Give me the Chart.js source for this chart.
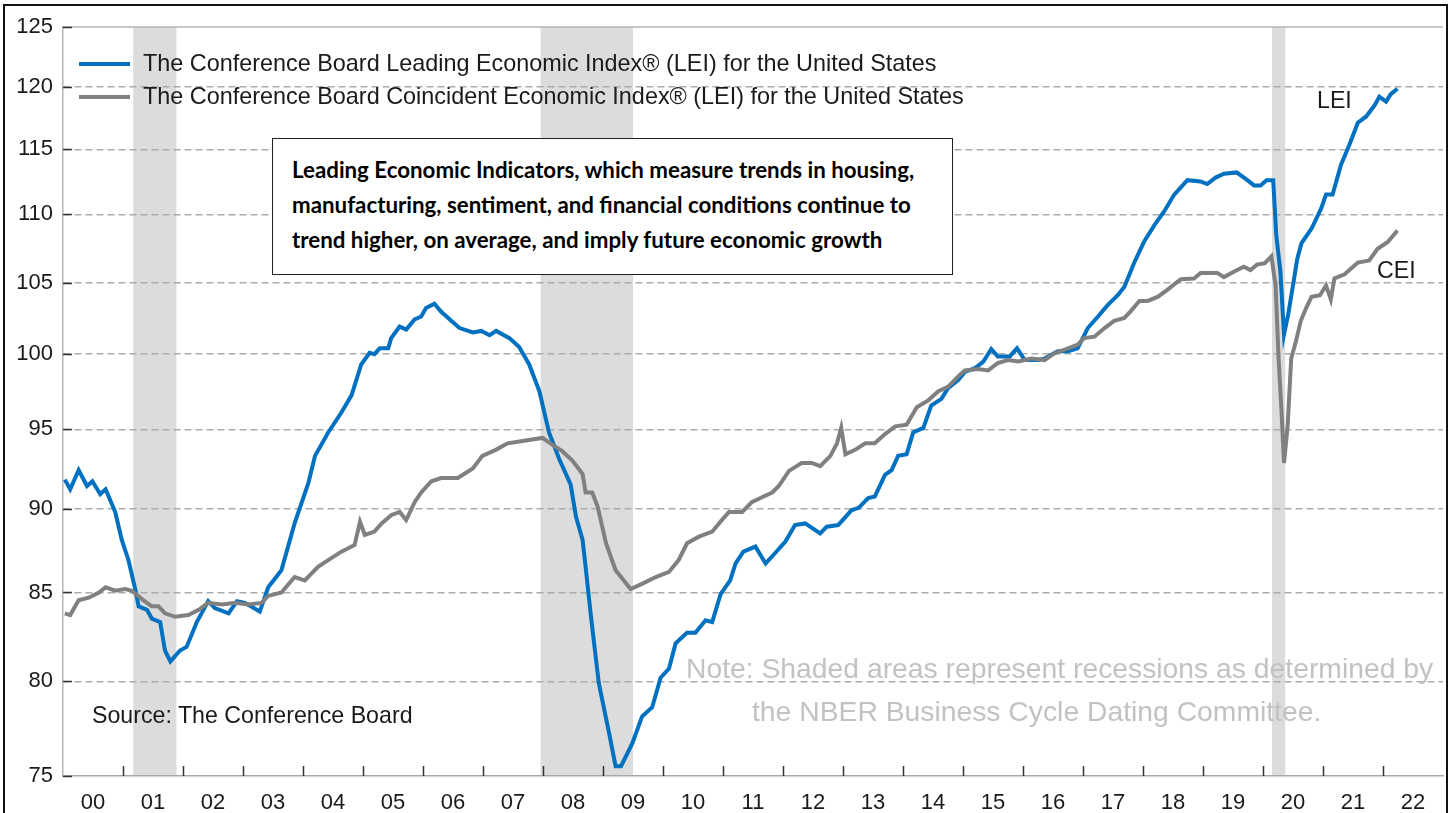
<!DOCTYPE html>
<html>
<head>
<meta charset="utf-8">
<script src="https://cdn.jsdelivr.net/npm/chart.js"></script>
<style>
  body { margin: 0; background: #fff; }
  #wrap { position: relative; width: 1451px; height: 813px; overflow: hidden; font-family: "Liberation Sans", Arial, sans-serif; }
  #chart { position: absolute; left: 0; top: 0; }
  #frame { position: absolute; left: 3px; top: 4px; width: 1441px; height: 900px; border: 2px solid #111; pointer-events: none; }
  .txt { position: absolute; white-space: nowrap; color: #1a1a1a; font-size: 23.2px; line-height: 26px; }
  #legend { position: absolute; left: 79px; top: 47px; }
  #legend .item { display: flex; align-items: center; height: 33px; font-size: 23.4px; color: #1a1a1a; white-space: nowrap; }
  #legend .swatch { display: inline-block; width: 51px; height: 4px; margin-right: 13px; }
  .note { color: #c2c2c2; font-size: 28.3px; line-height: 30px; }
  #box { position: absolute; left: 272px; top: 138px; width: 641px; height: 109px; padding: 13px 19px 13px 19px;
         border: 1.5px solid #222; background: #fff; font-family: Lato, "Open Sans", sans-serif; font-weight: bold;
         font-size: 22.3px; line-height: 35px; color: #000; white-space: nowrap; }
</style>
</head>
<body>
<div id="wrap">
  <canvas id="chart" width="1451" height="813"></canvas>
  <div id="legend"></div>
  <div id="box">Leading Economic Indicators, which measure trends in housing,<br>manufacturing, sentiment, and financial conditions continue to<br>trend higher, on average, and imply future economic growth</div>
  <div class="txt" style="left:92px; top:702px;">Source: The Conference Board</div>
  <div class="txt note" style="left:686px; top:653px;">Note: Shaded areas represent recessions as determined by</div>
  <div class="txt note" style="left:752px; top:696px;">the NBER Business Cycle Dating Committee.</div>
  <div class="txt" style="left:1317px; top:87px;">LEI</div>
  <div class="txt" style="left:1377px; top:257px;">CEI</div>
  <div id="frame"></div>
</div>
<script>
// ejes
const yTicks = [75, 80, 85, 90, 95, 100, 105, 110, 115, 120, 125];
const yearLabels = ['00','01','02','03','04','05','06','07','08','09','10','11','12','13','14','15','16','17','18','19','20','21','22'];

// recesiones (NBER)
const recStart = [2001.17, 2007.96, 2020.15];
const recEnd   = [2001.89, 2009.50, 2020.37];

// LEI
const leiDates = [
  2000.03, 2000.12, 2000.26, 2000.40, 2000.49, 2000.62, 2000.71, 2000.87, 2000.98,
  2001.09, 2001.21, 2001.26, 2001.40, 2001.48, 2001.62, 2001.70, 2001.79, 2001.95,
  2002.06, 2002.23, 2002.42, 2002.53, 2002.76, 2002.90,
  2003.03, 2003.28, 2003.42, 2003.64, 2003.86,
  2004.09, 2004.20, 2004.42, 2004.64, 2004.81, 2004.97,
  2005.11, 2005.19, 2005.28, 2005.42, 2005.47, 2005.61, 2005.72, 2005.86, 2005.97,
  2006.05, 2006.19, 2006.30, 2006.47, 2006.61, 2006.83, 2006.97,
  2007.11, 2007.22, 2007.44, 2007.60, 2007.77, 2007.94,
  2008.10, 2008.27, 2008.46, 2008.55, 2008.66, 2008.71, 2008.80, 2008.93,
  2009.10, 2009.21, 2009.30, 2009.49, 2009.65, 2009.82, 2009.96,
  2010.10, 2010.21, 2010.40, 2010.54, 2010.71, 2010.82, 2010.96,
  2011.12, 2011.21, 2011.34, 2011.54, 2011.71, 2011.84,
  2012.04, 2012.20, 2012.37, 2012.62, 2012.73, 2012.92,
  2013.14, 2013.26, 2013.42, 2013.53, 2013.70, 2013.81, 2013.92,
  2014.06, 2014.17, 2014.34, 2014.47, 2014.64, 2014.75, 2014.92,
  2015.03, 2015.20, 2015.34, 2015.47, 2015.58, 2015.78, 2015.90,
  2016.03, 2016.25, 2016.36, 2016.58, 2016.75, 2016.91,
  2017.08, 2017.25, 2017.41, 2017.58, 2017.69, 2017.86,
  2018.02, 2018.19, 2018.35, 2018.52, 2018.74, 2018.96,
  2019.07, 2019.21, 2019.35, 2019.56, 2019.74, 2019.85, 2019.96,
  2020.06, 2020.17, 2020.22, 2020.29, 2020.35, 2020.42, 2020.50, 2020.57, 2020.64, 2020.81, 2020.97,
  2021.05, 2021.16, 2021.30, 2021.44, 2021.58, 2021.72, 2021.86, 2021.94,
  2022.05, 2022.13, 2022.24
];
const leiValues = [
  91.8, 91.2, 92.4, 91.4, 91.7, 90.9, 91.2, 89.8, 88.1,
  86.9, 85.1, 84.2, 84.0, 83.5, 83.3, 81.7, 81.1, 81.7,
  81.9, 83.3, 84.5, 84.1, 83.8, 84.5,
  84.4, 83.9, 85.3, 86.3, 89.1,
  91.6, 93.3, 94.8, 96.1, 97.25, 99.3,
  100.1, 100.0, 100.4, 100.4, 101.1, 101.9, 101.7, 102.4, 102.6,
  103.2, 103.5, 102.95, 102.3, 101.8, 101.5, 101.6,
  101.3, 101.6, 101.1, 100.5, 99.3, 97.5,
  94.8, 93.1, 91.5, 89.5, 88.1, 86.5, 83.6, 79.9,
  77.25, 75.5, 75.5, 76.7, 78.1, 78.6, 80.2,
  80.7, 82.1, 82.7, 82.7, 83.4, 83.3, 84.9,
  85.7, 86.7, 87.4, 87.7, 86.7, 87.2,
  88.0, 89.0, 89.1, 88.5, 88.9, 89.0,
  89.9, 90.05, 90.65, 90.75, 92.1, 92.4, 93.3,
  93.4, 94.8, 95.1, 96.55, 97.0, 97.7, 98.25,
  98.8, 99.05, 99.5, 100.35, 99.85, 99.85, 100.4,
  99.6, 99.6, 99.7, 100.2, 100.2, 100.4,
  101.8, 102.6, 103.4, 104.1, 104.7, 106.5,
  108.0, 109.2, 110.2, 111.5, 112.6, 112.5,
  112.3, 112.8, 113.1, 113.2, 112.6, 112.2, 112.2,
  112.6, 112.6, 108.5, 105.8, 101.35, 102.75, 104.8, 106.7, 107.85, 108.95, 110.45,
  111.5, 111.5, 113.8, 115.35, 117.1, 117.6, 118.5, 119.2,
  118.8, 119.4, 119.85
];

// CEI
const ceiDates = [
  2000.03, 2000.12, 2000.26, 2000.43, 2000.60, 2000.71, 2000.87,
  2001.04, 2001.15, 2001.32, 2001.48, 2001.59, 2001.70, 2001.87,
  2002.09, 2002.26, 2002.42, 2002.65, 2002.87,
  2003.09, 2003.31, 2003.42, 2003.64, 2003.86,
  2004.03, 2004.25, 2004.42, 2004.64, 2004.86, 2004.95,
  2005.03, 2005.19, 2005.31, 2005.47, 2005.61, 2005.72, 2005.86, 2005.97,
  2006.14, 2006.30, 2006.58, 2006.83, 2006.99,
  2007.22, 2007.41, 2007.66, 2007.99,
  2008.16, 2008.32, 2008.49, 2008.66, 2008.71, 2008.82, 2008.91,
  2009.05, 2009.21, 2009.46, 2009.65, 2009.88,
  2010.10, 2010.26, 2010.40, 2010.60, 2010.82, 2010.98,
  2011.10, 2011.32, 2011.48, 2011.65, 2011.82, 2011.93,
  2012.10, 2012.31, 2012.48, 2012.62, 2012.79, 2012.90, 2012.97,
  2013.04, 2013.21, 2013.37, 2013.53, 2013.70, 2013.87,
  2014.06, 2014.23, 2014.42, 2014.59, 2014.75, 2014.92,
  2015.03, 2015.25, 2015.42, 2015.58, 2015.75, 2015.92,
  2016.14, 2016.36, 2016.52, 2016.75, 2016.91,
  2017.02, 2017.19, 2017.36, 2017.52, 2017.69, 2017.80, 2017.94,
  2018.08, 2018.25, 2018.41, 2018.63, 2018.85, 2018.96,
  2019.24, 2019.35, 2019.52, 2019.68, 2019.79, 2019.90,
  2020.03, 2020.14, 2020.21, 2020.26, 2020.31, 2020.35, 2020.41, 2020.47, 2020.55, 2020.63, 2020.73, 2020.81, 2020.95,
  2021.05, 2021.13, 2021.19, 2021.36, 2021.58, 2021.77, 2021.91,
  2022.08, 2022.24
];
const ceiValues = [
  83.8, 83.7, 84.55, 84.7, 85.0, 85.3, 85.1,
  85.2, 85.1, 84.6, 84.2, 84.2, 83.8, 83.6,
  83.7, 84.0, 84.4, 84.3, 84.4,
  84.3, 84.4, 84.8, 85.0, 85.9,
  85.7, 86.5, 86.9, 87.4, 87.8, 89.2,
  88.4, 88.6, 89.1, 89.6, 89.8, 89.3, 90.4, 91.0,
  91.7, 91.9, 91.9, 92.5, 93.3,
  93.7, 94.1, 94.25, 94.45,
  94.0, 93.6, 93.0, 92.15, 91.0, 91.0, 90.15,
  87.9, 86.3, 85.2, 85.5, 85.9,
  86.2, 86.9, 87.9, 88.3, 88.6, 89.3,
  89.8, 89.8, 90.4, 90.7, 91.0, 91.4,
  92.35, 92.85, 92.85, 92.65, 93.3, 94.1, 95.1,
  93.4, 93.7, 94.1, 94.1, 94.7, 95.2,
  95.3, 96.45, 96.9, 97.5, 97.8, 98.5,
  98.9, 99.0, 98.9, 99.4, 99.6, 99.5,
  99.7, 99.6, 100.05, 100.4, 100.65,
  101.1, 101.2, 101.8, 102.3, 102.5, 103.0, 103.7,
  103.7, 104.0, 104.5, 105.25, 105.3, 105.7,
  105.7, 105.4, 105.8, 106.15, 105.9, 106.3,
  106.4, 106.9, 104.8, 99.7, 96.1, 92.85, 95.2, 99.7, 100.9, 102.3, 103.3, 104.0, 104.1,
  104.8, 103.8, 105.3, 105.6, 106.45, 106.6, 107.45,
  107.95, 108.8
];

const leiColor = '#0070C0';
const ceiColor = '#808080';

// sombreado de recesiones, borde superior y marcas de los ejes
const extras = {
  id: 'extras',
  beforeDraw(chart) {
    const { ctx, chartArea: a, scales: { x } } = chart;
    ctx.save();
    ctx.fillStyle = '#dcdcdc';
    recStart.forEach((s, i) => {
      const x1 = x.getPixelForValue(s);
      const x2 = x.getPixelForValue(recEnd[i]);
      ctx.fillRect(x1, a.top, x2 - x1, a.bottom - a.top);
    });
    ctx.restore();
  },
  afterDraw(chart) {
    const { ctx, chartArea: a, scales: { x, y } } = chart;
    ctx.save();
    ctx.strokeStyle = '#b5b5b5';
    ctx.lineWidth = 1.5;
    ctx.beginPath();
    ctx.moveTo(a.left, a.top);
    ctx.lineTo(a.right, a.top);
    ctx.stroke();
    ctx.strokeStyle = '#333';
    ctx.lineWidth = 1.5;
    ctx.beginPath();
    for (let yr = 2001; yr <= 2022; yr++) {
      const px = Math.round(x.getPixelForValue(yr)) + 0.5;
      ctx.moveTo(px, a.bottom);
      ctx.lineTo(px, a.bottom - 10);
    }
    yTicks.forEach(v => {
      const py = Math.round(y.getPixelForValue(v)) + 0.5;
      ctx.moveTo(a.left, py);
      ctx.lineTo(a.left + 9, py);
    });
    ctx.stroke();
    ctx.restore();
  }
};

const chart = new Chart(document.getElementById('chart'), {
  type: 'line',
  data: {
    datasets: [
      {
        label: 'The Conference Board Leading Economic Index® (LEI) for the United States',
        data: leiDates.map((d, i) => ({ x: d, y: leiValues[i] })),
        borderColor: leiColor,
        backgroundColor: leiColor,
        borderWidth: 4,
        pointRadius: 0,
        tension: 0,
        order: 1
      },
      {
        label: 'The Conference Board Coincident Economic Index® (LEI) for the United States',
        data: ceiDates.map((d, i) => ({ x: d, y: ceiValues[i] })),
        borderColor: ceiColor,
        backgroundColor: ceiColor,
        borderWidth: 4,
        pointRadius: 0,
        tension: 0,
        order: 0
      }
    ]
  },
  options: {
    responsive: false,
    animation: false,
    layout: { padding: { left: 0, top: 27, right: 8, bottom: 0 } },
    plugins: { legend: { display: false }, tooltip: { enabled: false } },
    scales: {
      x: {
        type: 'linear',
        min: 2000,
        max: 2023,
        afterFit: s => { s.height = 37; s.paddingLeft = 0; s.paddingRight = 0; },
        grid: { display: false, drawTicks: false },
        border: { display: true, color: '#a8a8a8', width: 1.5 },
        ticks: {
          stepSize: 1,
          autoSkip: false,
          maxRotation: 0,
          labelOffset: 30,
          padding: 14,
          color: '#1a1a1a',
          font: { family: 'Liberation Sans', size: 22 },
          callback: v => yearLabels[v - 2000] || ''
        }
      },
      y: {
        type: 'logarithmic',
        min: 75,
        max: 125,
        afterFit: s => { s.width = 63; },
        afterBuildTicks: s => { s.ticks = yTicks.map(v => ({ value: v })); },
        grid: {
          drawTicks: false,
          lineWidth: 1.5,
          color: c => (c.tick && (c.tick.value === 75 || c.tick.value === 125)) ? 'rgba(0,0,0,0)' : '#ababab'
        },
        border: { display: true, color: '#b5b5b5', width: 1.5, dash: [7, 4] },
        ticks: {
          padding: 10,
          color: '#1a1a1a',
          font: { family: 'Liberation Sans', size: 22 },
          callback: v => String(v)
        }
      }
    }
  },
  plugins: [extras]
});

// leyenda en HTML a partir de los datasets
const legend = document.getElementById('legend');
chart.data.datasets.forEach(ds => {
  const item = document.createElement('div');
  item.className = 'item';
  const sw = document.createElement('span');
  sw.className = 'swatch';
  sw.style.background = ds.borderColor;
  item.appendChild(sw);
  item.appendChild(document.createTextNode(ds.label));
  legend.appendChild(item);
});
</script>
</body>
</html>
